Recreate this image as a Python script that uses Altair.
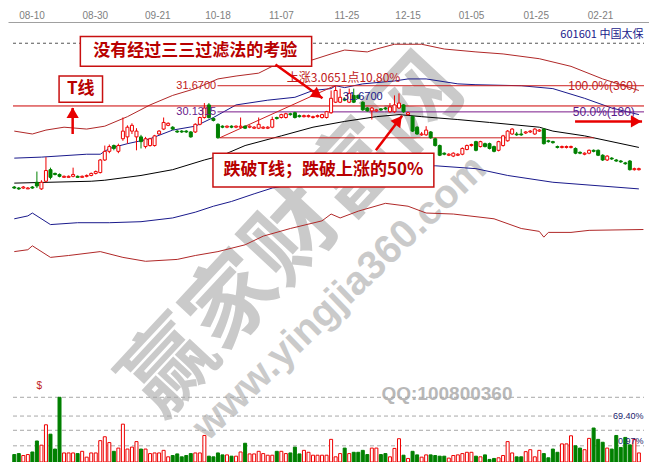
import altair as alt
import pandas as pd

# ---------------- data ----------------
dates = ["08-10", "08-30", "09-21", "10-18", "11-07", "11-25", "12-15", "01-05", "01-25", "02-21"]
date_pos = [3.8, 17.8, 31.6, 44.9, 58.9, 73.4, 86.9, 100.9, 115.2, 129.4]

opens = [25.71, 25.65, 25.65, 25.60, 25.71, 25.99, 25.60, 26.05, 26.73, 26.51,
         26.45, 26.28, 26.28, 26.34, 26.34, 26.28, 26.34, 26.39, 26.51, 26.56,
         27.30, 27.81, 28.15, 27.81, 28.55, 28.66, 29.00, 28.66, 28.66, 28.09,
         28.15, 28.15, 28.83, 29.12, 29.34, 29.23, 29.00, 29.00, 29.00, 28.95,
         28.95, 29.40, 29.80, 30.54, 29.74, 29.40, 29.29, 29.23, 29.29, 29.23,
         29.23, 29.29, 29.23, 29.17, 29.17, 29.17, 29.17, 29.23, 29.80, 29.80,
         29.80, 30.02, 30.08, 29.91, 29.85, 29.85, 29.80, 29.85, 29.80, 29.80,
         30.08, 30.70, 30.70, 30.88, 30.70, 31.10, 31.10, 30.70, 30.36, 30.19,
         30.19, 30.31, 30.36, 30.14, 30.14, 30.36, 30.54, 29.97, 29.85, 29.23,
         28.78, 28.78, 28.95, 28.55, 28.15, 27.70, 27.58, 27.53, 27.58, 27.64,
         27.92, 28.15, 28.38, 28.09, 28.26, 28.26, 28.09, 27.87, 28.15, 28.43,
         28.83, 28.83, 28.83, 28.89, 28.95, 28.83, 29.00, 29.12, 28.43, 28.38,
         28.09, 28.04, 28.04, 28.04, 27.98, 27.75, 27.64, 27.70, 27.87, 27.87,
         27.58, 27.30, 27.41, 27.30, 27.24, 27.13, 27.24, 26.73, 26.73]
closes = [25.65, 25.60, 25.71, 25.65, 25.65, 25.77, 25.99, 26.68, 26.28, 26.45,
          26.34, 26.34, 26.34, 26.45, 26.28, 26.34, 26.39, 26.51, 26.62, 27.30,
          27.81, 28.09, 27.98, 28.15, 29.00, 29.23, 29.34, 29.00, 28.38, 28.55,
          28.55, 28.72, 29.00, 29.51, 29.46, 29.12, 28.95, 28.95, 28.95, 28.66,
          29.40, 29.80, 30.36, 29.80, 29.63, 28.61, 29.23, 29.29, 29.23, 29.29,
          29.29, 29.17, 29.29, 29.23, 29.40, 29.23, 29.23, 29.68, 29.74, 29.97,
          30.02, 29.97, 29.80, 29.85, 29.91, 29.91, 29.85, 29.91, 29.97, 30.14,
          30.93, 31.39, 30.99, 30.82, 31.22, 30.70, 30.93, 30.25, 30.19, 30.36,
          30.25, 30.25, 30.31, 30.42, 30.54, 30.65, 30.14, 30.08, 29.00, 28.83,
          28.83, 29.06, 28.61, 28.15, 27.58, 27.64, 27.64, 27.70, 27.64, 27.98,
          28.15, 28.21, 27.87, 28.38, 28.09, 27.98, 27.81, 28.38, 28.72, 29.00,
          29.12, 28.78, 28.78, 28.95, 29.00, 29.12, 29.06, 28.26, 28.38, 28.32,
          28.04, 28.09, 28.09, 28.09, 27.70, 27.70, 27.70, 27.87, 27.81, 27.58,
          27.30, 27.53, 27.36, 27.24, 27.19, 27.08, 26.73, 26.79, 26.79]
highs = [25.77, 25.71, 25.77, 25.71, 25.77, 26.62, 26.11, 27.47, 26.85, 26.56,
         26.51, 26.39, 26.39, 26.85, 26.39, 26.39, 26.45, 26.56, 26.68, 27.36,
         28.15, 28.21, 28.21, 28.26, 29.80, 29.34, 29.46, 29.17, 28.78, 28.66,
         28.61, 28.78, 29.06, 29.80, 29.51, 29.29, 29.06, 29.06, 29.06, 29.00,
         29.46, 29.85, 30.65, 30.65, 29.80, 29.46, 29.34, 29.34, 29.34, 29.34,
         29.80, 29.34, 29.34, 29.29, 29.80, 29.29, 29.29, 29.85, 29.85, 30.02,
         30.08, 30.08, 30.14, 29.97, 29.97, 29.97, 29.91, 29.97, 30.02, 30.19,
         31.39, 31.67, 31.50, 30.99, 31.50, 31.50, 31.16, 30.76, 30.42, 30.42,
         30.31, 30.36, 30.42, 30.65, 31.10, 31.22, 30.59, 30.14, 29.91, 29.29,
         28.95, 29.29, 29.00, 28.61, 28.21, 27.75, 27.70, 27.75, 27.70, 28.04,
         28.21, 28.26, 28.43, 28.43, 28.32, 28.32, 28.15, 28.43, 28.78, 29.06,
         29.17, 28.95, 29.12, 29.00, 29.06, 29.17, 29.12, 29.17, 28.49, 28.43,
         28.15, 28.15, 28.15, 28.15, 28.04, 27.81, 27.75, 27.92, 27.92, 27.92,
         27.64, 27.58, 27.47, 27.36, 27.30, 27.19, 27.30, 26.85, 26.85]
lows = [25.60, 25.54, 25.60, 25.60, 25.60, 25.65, 25.54, 25.99, 26.16, 26.39,
        26.28, 26.28, 26.28, 26.28, 26.28, 26.28, 26.28, 26.34, 26.45, 26.51,
        27.24, 27.70, 27.87, 27.70, 28.43, 28.26, 28.83, 27.87, 27.98, 27.98,
        28.09, 28.09, 28.78, 29.06, 29.29, 29.06, 28.89, 28.89, 28.89, 28.61,
        28.89, 29.34, 29.74, 29.74, 29.57, 28.55, 29.17, 29.17, 29.17, 29.17,
        29.17, 29.12, 29.17, 29.12, 29.12, 29.12, 29.12, 29.17, 29.68, 29.74,
        29.74, 29.91, 29.74, 29.80, 29.80, 29.80, 29.74, 29.80, 29.74, 29.74,
        30.02, 30.65, 30.65, 30.76, 30.65, 30.65, 30.88, 30.19, 30.14, 29.68,
        30.14, 30.19, 30.25, 30.08, 30.08, 30.31, 30.08, 29.91, 28.95, 28.78,
        28.72, 28.72, 28.55, 28.09, 27.53, 27.58, 27.53, 27.47, 27.53, 27.58,
        27.87, 28.09, 27.81, 28.04, 28.04, 27.92, 27.75, 27.81, 28.09, 28.38,
        28.78, 28.72, 28.72, 28.83, 28.89, 28.78, 28.95, 28.21, 28.32, 28.26,
        27.98, 27.98, 27.98, 27.98, 27.64, 27.64, 27.58, 27.64, 27.75, 27.53,
        27.24, 27.24, 27.30, 27.19, 27.13, 27.02, 26.68, 26.68, 26.68]
volumes = [11.5, 13, 10, 11.5, 15.5, 32.5, 26, 57.5, 43, 20,
           100, 14, 14, 14, 13, 16.5, 7.5, 14, 14, 33,
           39, 30, 16.5, 21.5, 58.5, 20, 23, 31.5, 20, 20,
           13, 14, 14, 18, 8, 10, 12.5, 8, 10, 13,
           14, 14, 41, 9, 8, 14, 11, 11, 9, 9,
           15.5, 29, 12.5, 12.5, 16.5, 13, 10.5, 10.5, 16.5, 16.5,
           13, 14, 23, 12.5, 18, 15, 10.5, 10.5, 10.5, 10.5,
           35, 8, 13, 21.5, 13, 15, 15, 18, 11.5, 21.5,
           21.5, 11.5, 13, 8, 21, 36, 10.5, 5.5, 16.5, 11,
           7.5, 11, 11, 10, 9, 9, 6, 10, 11, 13,
           15, 15, 9, 8, 11, 4, 5.5, 6.5, 10, 31.5,
           14, 8, 8, 16, 19, 8, 18, 13, 6.5, 20,
           15, 28, 28, 40.5, 25, 21.5, 19, 36.5, 52.5, 35,
           30.5, 21.5, 20, 41, 22.5, 38, 26.5, 35, 14]

# band / average lines (bar index, price)
red_up_i = [0, 4, 7, 11, 16, 20, 25, 30, 35, 40, 45, 49, 54, 57, 61, 66, 70, 73, 78, 80, 84, 87, 90, 95, 102, 108, 116, 123, 130, 136, 138]
red_up_v = [29.00, 28.83, 29.06, 29.23, 29.12, 29.29, 29.85, 30.54, 31.10, 31.50, 32.07, 32.24, 32.41, 32.81, 32.98, 33.20, 33.54, 33.77, 33.66, 33.83, 34.11, 34.11, 34.11, 33.83, 33.66, 33.54, 33.26, 32.81, 32.07, 31.56, 31.39]
blue_up_i = [0, 6, 16, 19, 21, 25, 30, 35, 40, 44, 49, 56, 62, 66, 70, 71, 73, 77, 84, 87, 91, 98, 102, 112, 119, 126, 132, 138]
blue_up_v = [27.41, 27.47, 27.64, 27.64, 27.98, 28.26, 28.55, 29.06, 29.29, 29.80, 30.54, 30.82, 30.99, 31.39, 31.50, 31.67, 31.56, 31.78, 31.95, 32.07, 32.07, 31.78, 31.73, 31.67, 31.50, 30.93, 30.36, 29.97]
ma_i = [0, 17, 20, 28, 35, 42, 46, 51, 59, 66, 73, 80, 85, 90, 98, 105, 116, 119, 126, 138]
ma_v = [25.94, 26.05, 26.11, 26.39, 26.73, 27.30, 27.58, 28.15, 28.72, 29.23, 29.57, 29.85, 29.97, 29.85, 29.68, 29.51, 29.23, 29.00, 28.72, 28.04]
blue_lo_i = [0, 3, 4, 8, 14, 21, 28, 35, 40, 44, 48, 53, 57, 63, 72, 80, 87, 93, 102, 109, 119, 138]
blue_lo_v = [23.84, 24.01, 24.18, 23.50, 23.61, 23.61, 23.67, 23.89, 24.23, 24.58, 24.86, 25.31, 25.65, 25.94, 26.28, 26.62, 26.85, 26.96, 26.79, 26.39, 25.99, 25.60]
red_lo_i = [0, 3, 4, 8, 12, 19, 24, 29, 36, 40, 45, 51, 55, 61, 68, 70, 72, 76, 82, 87, 91, 97, 106, 112, 116, 117, 118, 123, 127, 139]
red_lo_v = [21.91, 22.02, 22.25, 21.57, 21.68, 21.91, 21.57, 21.34, 21.45, 21.68, 21.91, 22.31, 22.82, 23.27, 23.72, 24.12, 23.89, 24.29, 24.75, 24.58, 24.18, 24.12, 23.84, 23.27, 23.10, 22.76, 23.04, 23.04, 23.16, 23.21]

# fibonacci / marker levels
t_line = 30.48
high_lvl = 31.67
mid_lvl = 30.1315
low_lvl = 28.6049
top_dash = 34.17
vol_grid = [100, 71, 49, 25]

# ---------------- scales ----------------
XD = [-0.28, 139.13]
PD = [9.53, 35.42]
VD = [0, 680]

N = len(opens)
df = pd.DataFrame({"i": list(range(N)), "open": opens, "close": closes,
                   "high": highs, "low": lows, "vol": volumes})
df["dir"] = ["up" if c >= o else "down" for o, c in zip(opens, closes)]

label_expr = ("[" + ",".join("'%s'" % d for d in dates) + "][indexof(["
              + ",".join(str(p) for p in date_pos) + "], datum.value)]")
xaxis = alt.Axis(orient="top", values=date_pos, labelExpr=label_expr, grid=False,
                 ticks=False, domainColor="#a0a0a0", labelColor="#808080",
                 labelFontSize=10, labelFont="Liberation Sans", labelPadding=2,
                 title=None, labelOverlap=False, labelFlush=False)
XS = alt.Scale(domain=XD, nice=False, zero=False)


def X(f="i"):
    return alt.X(f + ":Q", scale=XS, axis=xaxis)


def YP(f):
    return alt.Y(f + ":Q", scale=alt.Scale(domain=PD, nice=False, zero=False), axis=None)


def YV(f):
    return alt.Y(f + ":Q", scale=alt.Scale(domain=VD, nice=False, zero=False), axis=None)


FS = alt.Scale(domain=["up", "down"], range=["#ffffff", "#008000"])
SS = alt.Scale(domain=["up", "down"], range=["#ee0000", "#008000"])

layers = []


def text_layer(rows, yf=YP, **kw):
    d = pd.DataFrame(rows, columns=["x", "y", "t"])
    return alt.Chart(d).mark_text(**kw).encode(x=X("x"), y=yf("y"), text="t:N")


# watermark
layers.append(text_layer([[61.9, 22.76, "赢家财富网"]], angle=313, fontSize=90,
                         font="Noto Sans CJK SC", fontWeight="bold", color="#cacaca",
                         align="center", baseline="middle"))
layers.append(text_layer([[71.9, 19.18, "www.yingjia360.com"]], angle=316, fontSize=40,
                         font="Liberation Sans", fontWeight="bold", color="#cacaca",
                         align="center", baseline="middle"))
layers.append(text_layer([[95.6, 104.4, "QQ:100800360"]], yf=YV, fontSize=19,
                         font="Liberation Sans", fontWeight="bold", color="#b8b8b8",
                         align="center", baseline="middle"))


def line_layer(ii, vv, color, width=1.0):
    d = pd.DataFrame({"i": ii, "v": vv})
    return alt.Chart(d).mark_line(color=color, strokeWidth=width).encode(x=X("i"), y=YP("v"))


def hrule(x1, x2, y, color, dash=None, yf=YP, width=1.0):
    d = pd.DataFrame({"x1": [x1], "x2": [x2], "y": [y]})
    kw = dict(color=color, strokeWidth=width)
    if dash:
        kw["strokeDash"] = dash
    return alt.Chart(d).mark_rule(**kw).encode(x=X("x1"), x2=alt.X2("x2"), y=yf("y"))


# top dashed line + volume grid
layers.append(hrule(XD[0], XD[1], top_dash, "#555555", dash=[3, 3]))
for g in vol_grid:
    layers.append(hrule(XD[0], XD[1] if g != 71 else 132.0, g, "#a8a8a8", dash=[4, 3], yf=YV))

# bands
layers.append(line_layer(red_up_i, red_up_v, "#b02828"))
layers.append(line_layer(red_lo_i, red_lo_v, "#b02828"))
layers.append(line_layer(blue_up_i, blue_up_v, "#1a1a8c"))
layers.append(line_layer(blue_lo_i, blue_lo_v, "#1a1a8c"))
layers.append(line_layer(ma_i, ma_v, "#000000"))

# level lines
layers.append(hrule(XD[0], XD[1], t_line, "#cc0000"))
layers.append(hrule(44.9, XD[1], high_lvl, "#cc2020"))
layers.append(hrule(44.9, XD[1], mid_lvl, "#7a1a8a"))
layers.append(hrule(45.4, 128.1, low_lvl, "#cc2020"))
layers.append(line_layer([45.4, 70.8], [low_lvl, high_lvl], "#cc2020"))

# candles
layers.append(alt.Chart(df).mark_rule(strokeWidth=1).encode(
    x=X("i"), y=YP("low"), y2=alt.Y2("high"),
    stroke=alt.Stroke("dir:N", scale=SS, legend=None)))
layers.append(alt.Chart(df).mark_bar(size=3, strokeWidth=1).encode(
    x=X("i"), y=YP("open"), y2=alt.Y2("close"),
    fill=alt.Fill("dir:N", scale=FS, legend=None),
    stroke=alt.Stroke("dir:N", scale=SS, legend=None)))

# volume
layers.append(alt.Chart(df).mark_bar(size=3, strokeWidth=1).encode(
    x=X("i"), y=YV("vol"),
    fill=alt.Fill("dir:N", scale=FS, legend=None),
    stroke=alt.Stroke("dir:N", scale=SS, legend=None)))

# level labels
layers.append(text_layer([[44.6, high_lvl, "31.6700"]], fontSize=11, font="Liberation Sans",
                         color="#c02020", align="right", baseline="middle"))
layers.append(text_layer([[44.6, mid_lvl, "30.1315"]], fontSize=11, font="Liberation Sans",
                         color="#6a1a8a", align="right", baseline="middle"))
layers.append(text_layer([[122.4, high_lvl, "100.0%(360)"]], fontSize=12, font="Liberation Sans",
                         color="#c02020", align="left", baseline="middle"))
layers.append(text_layer([[123.4, mid_lvl, "50.0%(180)"]], fontSize=12, font="Liberation Sans",
                         color="#5a1a8a", align="left", baseline="middle"))
layers.append(text_layer([[60.2, 32.12, "上涨3.0651点10.80%"]], fontSize=12, font="Noto Sans CJK SC",
                         color="#c02020", align="left", baseline="middle"))
layers.append(text_layer([[72.6, 30.99, "31.6700"]], fontSize=11, font="Liberation Sans",
                         color="#1a1a8c", align="left", baseline="middle"))
layers.append(text_layer([[139.0, 34.68, "601601  中国太保"]], fontSize=11, font="Noto Sans CJK SC",
                         color="#1a1a8c", align="right", baseline="middle"))
layers.append(text_layer([[139.0, 71.6, "69.40%"]], yf=YV, fontSize=9, font="Liberation Sans",
                         color="#1a1a6c", align="right", baseline="middle"))
layers.append(text_layer([[139.0, 32.8, "0.97%"]], yf=YV, fontSize=9, font="Liberation Sans",
                         color="#1a1a6c", align="right", baseline="middle"))
layers.append(text_layer([[5.5, 117.8, "$"]], yf=YV, fontSize=10, font="Liberation Sans",
                         color="#c02020", align="center", baseline="middle"))

# annotation boxes
boxes = pd.DataFrame({"x1": [14.6, 9.9, 43.9], "x2": [65.7, 19.5, 92.7],
                      "y1": [34.57, 32.24, 27.70], "y2": [32.81, 30.70, 25.71]})
layers.append(alt.Chart(boxes).mark_rect(fill="#ffffff", stroke="#c81010", strokeWidth=1.5).encode(
    x=X("x1"), x2=alt.X2("x2"), y=YP("y1"), y2=alt.Y2("y2")))
layers.append(text_layer([[40.0, 33.69, "没有经过三三过滤法的考验"],
                          [14.7, 31.47, "T线"],
                          [68.3, 26.70, "跌破T线；跌破上涨的50%"]],
                         fontSize=17, font="Noto Sans CJK SC", fontWeight="bold",
                         color="#b80000", align="center", baseline="middle"))

# arrows
arrows = pd.DataFrame({"a": [1, 1, 2, 2, 3, 3, 4, 4],
                       "i": [57.7, 68.1, 12.9, 12.9, 79.9, 85.7, 123.9, 138.7],
                       "v": [32.92, 30.93, 28.83, 30.36, 27.87, 29.91, 29.57, 29.57]})
layers.append(alt.Chart(arrows).mark_line(color="#e80000", strokeWidth=2.5).encode(
    x=X("i"), y=YP("v"), detail="a:N"))
heads = pd.DataFrame({"i": [67.0, 12.9, 84.9, 137.4], "v": [31.13, 30.08, 29.64, 29.57],
                      "ang": [125.5, 0, 36.9, 90]})
layers.append(alt.Chart(heads).mark_point(shape="triangle-up", filled=True, size=150,
                                          color="#e80000", opacity=1).encode(
    x=X("i"), y=YP("v"), angle=alt.Angle("ang:Q", scale=None)))

chart = alt.layer(*layers).resolve_scale(y="independent").properties(
    width=641, height=440,
    padding={"top": 14, "left": 0, "right": 0, "bottom": 0},
    autosize=alt.AutoSizeParams(type="none"),
    background="#ffffff",
).configure_view(stroke=None)

chart.save("out.html", embed_options={"renderer": "svg", "actions": False})
